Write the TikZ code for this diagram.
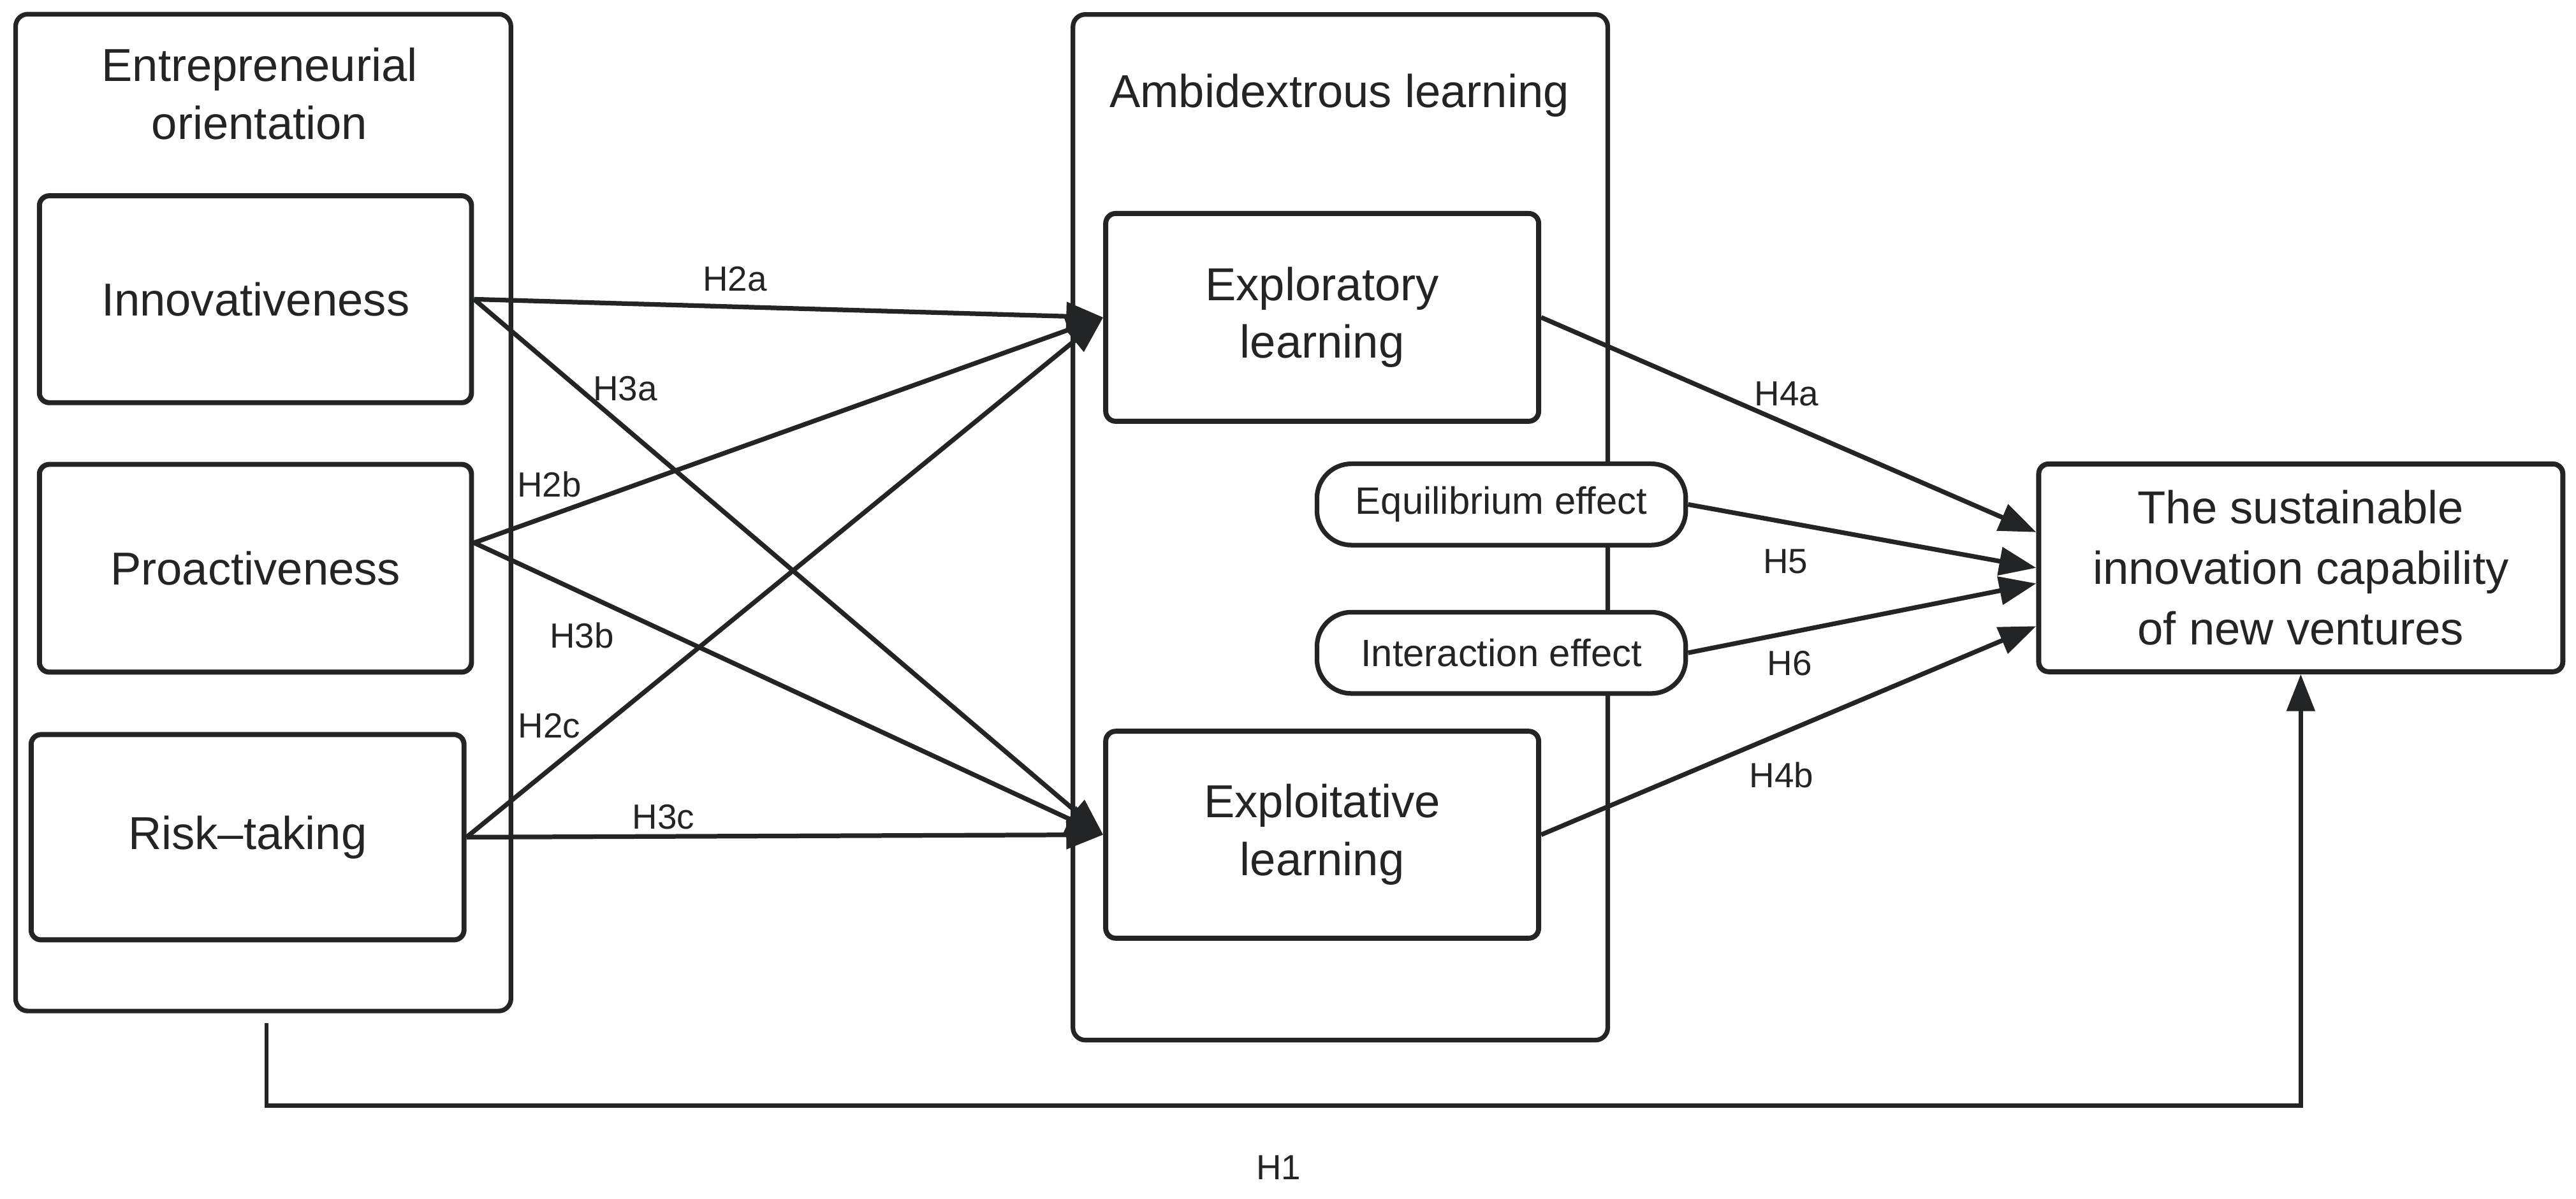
\documentclass[tikz,border=0pt]{standalone}
\usepackage{fontspec}
\setmainfont{Liberation Sans}
\usetikzlibrary{arrows.meta}

\definecolor{inkgray}{RGB}{34,36,38}

\begin{document}
\begin{tikzpicture}[
    every node/.style = {text = inkgray},
    frame/.style = {draw = inkgray, line width = 1.6pt, rounded corners = 0.15cm},
    box/.style = {draw = inkgray, line width = 1.75pt, rounded corners = 0.12cm, fill = white},
    big/.style = {font = \fontsize{16}{20}\selectfont, align = center},
    pill/.style = {draw = inkgray, line width = 1.6pt, rounded corners = 0.42cm, fill = white,
        minimum width = 4.49cm, minimum height = 0.99cm, font = \fontsize{13.2}{16}\selectfont},
    hyp/.style = {font = \fontsize{12.1}{14}\selectfont, inner sep = 0pt},
    link/.style = {draw = inkgray, line width = 1.6pt, -{Triangle[length = 0.45cm, width = 0.34cm]}}
]

    \useasboundingbox (0,0) rectangle (31.36,14.6);


    \node[frame,
    minimum width = 6.03cm,
    minimum height = 12.14cm] (eo) at (3.205,8.358) {};

    \node[frame,
    minimum width = 6.51cm,
    minimum height = 12.49cm] (al) at (16.317,8.179) {};

    \node[big] (eotitle) at (3.16,13.456) {Entrepreneurial\\orientation};
    \node[big] (altitle) at (16.306,13.44) {Ambidextrous learning};


    \node[box, big,
    minimum width = 5.26cm,
    minimum height = 2.52cm] (inn) at (3.11,10.956) {Innovativeness};

    \node[box, big,
    minimum width = 5.26cm,
    minimum height = 2.53cm] (pro) at (3.11,7.68) {Proactiveness};

    \node[box, big,
    minimum width = 5.27cm,
    minimum height = 2.5cm] (rsk) at (3.014,4.405) {Risk--taking};

    \node[box, big,
    minimum width = 5.27cm,
    minimum height = 2.53cm] (exr) at (16.096,10.735) {Exploratory\\learning};

    \node[box, big,
    minimum width = 5.27cm,
    minimum height = 2.52cm] (exi) at (16.096,4.435) {Exploitative\\learning};

    \node[pill] (equ) at (18.277,8.457) {Equilibrium effect};
    \node[pill] (itr) at (18.277,6.65) {Interaction effect};

    \node[box, big,
    font = \fontsize{16}{21}\selectfont,
    minimum width = 6.38cm,
    minimum height = 2.53cm] (sus) at (28.009,7.685) {The sustainable\\innovation capability\\of new ventures};


    \node[hyp] (h2a) at (8.946,11.204) {H2a};
    \node[hyp] (h3a) at (7.612,9.87) {H3a};
    \node[hyp] (h2b) at (6.686,8.698) {H2b};
    \node[hyp] (h3b) at (7.084,6.864) {H3b};
    \node[hyp] (h2c) at (6.686,5.758) {H2c};
    \node[hyp] (h3c) at (8.074,4.652) {H3c};
    \node[hyp] (h4a) at (21.748,9.80) {H4a};
    \node[hyp] (h5) at (21.736,7.764) {H5};
    \node[hyp] (h6) at (21.786,6.526) {H6};
    \node[hyp] (h4b) at (21.686,5.164) {H4b};
    \node[hyp] (h1) at (15.564,0.384) {H1};

    \coordinate (proout) at ([yshift=0.31cm]pro.east);
    \coordinate (h1start) at ([xshift=0.04cm,yshift=-0.12cm]eo.south);
    \coordinate (h1turn) at (28.009,1.136);


      \draw[link] (inn.east) -- (exr.west);
      \draw[link] (inn.east) -- (exi.west);
      \draw[link] (proout) -- (exr.west);
      \draw[link] (proout) -- (exi.west);
      \draw[link] (rsk.east) -- (exr.west);
      \draw[link] (rsk.east) -- (exi.west);

      \draw[link] (exr.east) -- ([yshift=0.435cm]sus.west);
      \draw[link] (equ.east) -- (sus.west);
      \draw[link] (itr.east) -- ([yshift=-0.19cm]sus.west);
      \draw[link] (exi.east) -- ([yshift=-0.71cm]sus.west);

      \draw[link, line width = 1.4pt] (h1start) |- (h1turn) -- (sus.south);
  \end{tikzpicture}
\end{document}
